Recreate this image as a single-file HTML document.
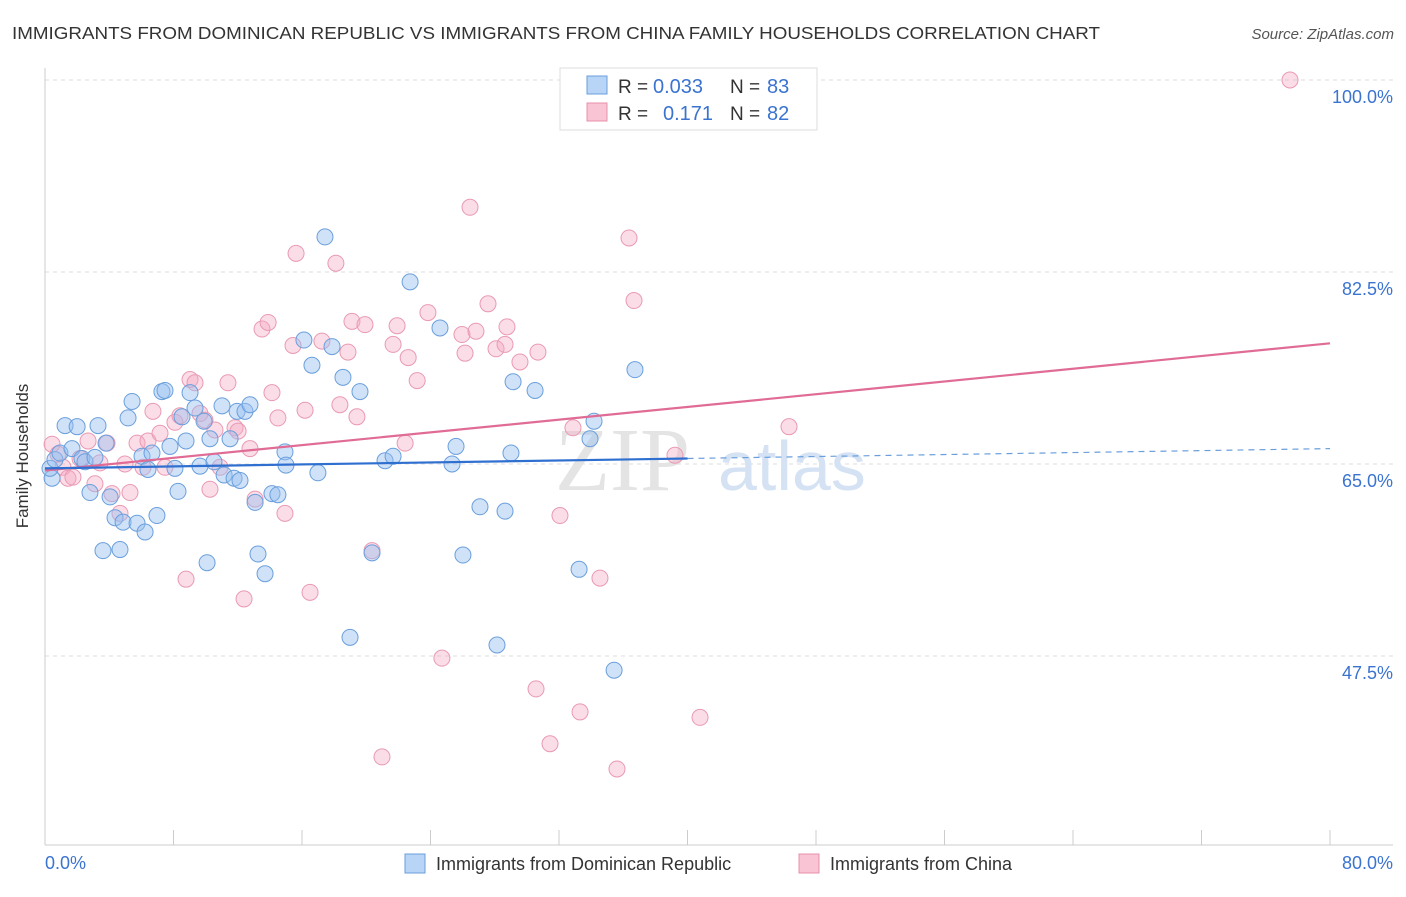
<!DOCTYPE html>
<html><head><meta charset="utf-8"><style>
body{margin:0;background:#fff;font-family:"Liberation Sans",sans-serif;}
</style></head><body>
<svg width="1406" height="892" xmlns="http://www.w3.org/2000/svg">
<text x="12" y="39" font-size="17.5" fill="#333" textLength="1088" lengthAdjust="spacingAndGlyphs">IMMIGRANTS FROM DOMINICAN REPUBLIC VS IMMIGRANTS FROM CHINA FAMILY HOUSEHOLDS CORRELATION CHART</text>
<text x="1394" y="39" font-size="15" fill="#555" font-style="italic" text-anchor="end">Source: ZipAtlas.com</text>
<g id="grid"></g>
<text x="555" y="490" font-size="90" fill="#e4e4e4" font-family="Liberation Serif">ZIP</text>
<text x="718" y="490" font-size="70" fill="#d4e2f4">atlas</text>
<g id="pts"></g>
<g id="lines"></g>
<text x="28" y="456" font-size="17" fill="#333" text-anchor="middle" transform="rotate(-90 28 456)">Family Households</text>
<text x="45" y="869" font-size="18" fill="#3a73d0">0.0%</text>
<text x="1393" y="869" font-size="18" fill="#3a73d0" text-anchor="end">80.0%</text>
<g>
<rect x="560" y="68" width="257" height="62" fill="#fff" stroke="#ddd"/>
<rect x="587" y="76" width="20" height="18" fill="#b8d4f6" stroke="#6a9fdc"/>
<rect x="587" y="103" width="20" height="18" fill="#f9c4d4" stroke="#e890ab"/>
<text x="618" y="93" font-size="19" fill="#333">R =</text>
<text x="653" y="93" font-size="20" fill="#3a73d0">0.033</text>
<text x="730" y="93" font-size="19" fill="#333">N =</text>
<text x="767" y="93" font-size="20" fill="#3a73d0">83</text>
<text x="618" y="120" font-size="19" fill="#333">R =</text>
<text x="663" y="120" font-size="20" fill="#3a73d0">0.171</text>
<text x="730" y="120" font-size="19" fill="#333">N =</text>
<text x="767" y="120" font-size="20" fill="#3a73d0">82</text>
</g>
<g>
<rect x="405" y="854" width="20" height="19" fill="#b8d4f6" stroke="#6a9fdc"/>
<text x="436" y="870" font-size="18" fill="#333">Immigrants from Dominican Republic</text>
<rect x="799" y="854" width="20" height="19" fill="#f9c4d4" stroke="#e890ab"/>
<text x="830" y="870" font-size="18" fill="#333">Immigrants from China</text>
</g>
</svg>
<script>
const yTicks=[100,82.5,65,47.5];
const yTickLabels=["100.0%","82.5%","65.0%","47.5%"];
const xTicks=[0,8,16,24,32,40,48,56,64,72,80];
const blueX=[0.44,0.31,0.62,0.93,1.25,1.68,2.0,2.3,2.49,2.8,3.11,3.3,3.61,3.8,4.05,4.36,4.67,4.86,5.17,5.42,5.73,6.04,6.23,6.41,6.66,6.97,7.28,7.47,7.78,8.09,8.28,8.53,8.78,9.03,9.34,9.65,9.9,10.09,10.27,10.52,11.02,11.15,11.52,11.77,11.96,12.14,12.45,12.76,13.08,13.26,13.7,14.13,14.5,14.94,15.0,16.12,16.62,16.99,17.43,17.87,18.55,18.99,19.61,20.36,21.17,21.67,22.73,24.59,25.34,25.59,26.02,27.08,28.14,28.64,29.01,29.14,30.51,33.25,33.93,34.18,35.43,36.73];
const blueY=[63.7,64.6,65.4,66.0,68.5,66.4,68.4,65.5,65.2,62.4,65.6,68.5,57.1,66.9,62.0,60.1,57.2,59.7,69.2,70.7,59.6,65.7,58.8,64.5,66.0,60.3,71.6,71.7,66.6,64.6,62.5,69.3,67.1,71.5,70.1,64.8,68.9,56.0,67.3,65.2,70.3,64.0,67.3,63.7,69.8,63.5,69.8,70.4,61.5,56.8,55.0,62.3,62.2,66.1,64.9,76.3,74.0,64.2,85.7,75.7,72.9,49.2,71.6,56.9,65.3,65.7,81.6,77.4,65.0,66.6,56.7,61.1,48.5,60.7,66.0,72.5,71.7,55.4,67.3,68.9,46.2,73.6];
const pinkX=[0.44,0.81,1.12,1.43,1.74,2.18,2.68,3.11,3.42,3.86,4.17,4.67,4.98,5.29,5.73,6.1,6.41,6.72,7.16,7.47,8.09,8.4,8.78,9.03,9.34,9.65,9.96,10.27,10.58,10.9,11.39,11.83,12.02,12.39,12.76,13.08,13.51,13.89,14.13,14.5,14.94,15.44,15.63,16.19,16.5,17.24,18.11,18.36,18.86,19.11,19.42,19.92,20.36,20.98,21.67,21.92,22.42,22.61,23.17,23.84,24.71,25.96,26.15,26.46,26.83,27.58,28.08,28.64,28.76,29.57,30.57,30.69,31.44,32.06,32.87,33.31,34.55,35.61,36.36,36.67,39.22,40.78,46.32,77.51];
const pinkY=[66.8,65.9,64.7,63.7,63.8,65.5,67.1,63.2,65.1,66.9,62.3,60.5,65.0,62.4,66.9,64.7,67.1,69.8,67.8,64.7,68.8,69.4,54.5,72.7,72.4,69.6,69.0,62.7,68.1,64.7,72.4,68.3,68.0,52.7,66.4,61.8,77.3,77.9,71.5,69.2,60.5,75.8,84.2,69.9,53.3,76.2,83.3,70.4,75.2,78.0,69.3,77.7,57.1,38.3,75.9,77.6,66.9,74.7,72.6,78.8,47.3,76.8,75.1,88.4,77.1,79.6,75.5,75.9,77.5,74.3,44.5,75.2,39.5,60.3,68.3,42.4,54.6,37.2,85.6,79.9,65.8,41.9,68.4,100.0];
const blueFit=[[0,64.6],[40,65.5]];
const blueFitExt=[[40,65.5],[80,66.4]];
const pinkFit=[[0,64.4],[80,76.0]];
const NS="http://www.w3.org/2000/svg";
function X(v){return 45+v/80*1285;}
function Y(v){return 80+(100-v)*10.971;}
function mk(t,a,p){const e=document.createElementNS(NS,t);for(const k in a)e.setAttribute(k,a[k]);p.appendChild(e);return e;}
const grid=document.getElementById('grid');
yTicks.forEach((t,i)=>{
 const l=mk('line',{x1:45,x2:1393,y1:Y(t),y2:Y(t),stroke:'#ddd','stroke-dasharray':'4,4'},grid);
 
 
 const tx=mk('text',{x:1393,y:Y(t)+23,'font-size':18,fill:'#3a73d0','text-anchor':'end'},grid);
 tx.textContent=yTickLabels[i];
 
 
});
const ax=mk('line',{x1:45,x2:45,y1:68,y2:845,stroke:'#ccc'},grid);


const bx=mk('line',{x1:45,x2:1393,y1:845,y2:845,stroke:'#ccc'},grid);


xTicks.forEach(t=>{
 const l=mk('line',{x1:X(t),x2:X(t),y1:830,y2:845,stroke:'#ccc'},grid);
 
 
});
const pts=document.getElementById('pts');
pinkX.forEach((v,i)=>{
 const c=mk('circle',{cx:X(v),cy:Y(pinkY[i]),r:8,fill:'rgba(245,170,195,0.4)',stroke:'#e99ab3','stroke-width':1},pts);
 
 
});
blueX.forEach((v,i)=>{
 const c=mk('circle',{cx:X(v),cy:Y(blueY[i]),r:8,fill:'rgba(150,190,240,0.45)',stroke:'#6a9fdc','stroke-width':1},pts);
 
 
});
const ln=document.getElementById('lines');
const p1=mk('line',{x1:X(pinkFit[0][0]),y1:Y(pinkFit[0][1]),x2:X(pinkFit[1][0]),y2:Y(pinkFit[1][1]),stroke:'#e06c96','stroke-width':2.2},ln);


const b1=mk('line',{x1:X(blueFit[0][0]),y1:Y(blueFit[0][1]),x2:X(blueFit[1][0]),y2:Y(blueFit[1][1]),stroke:'#2f6fd0','stroke-width':2.2},ln);


const b2=mk('line',{x1:X(blueFitExt[0][0]),y1:Y(blueFitExt[0][1]),x2:X(blueFitExt[1][0]),y2:Y(blueFitExt[1][1]),stroke:'#6a9fdc','stroke-width':1.2,'stroke-dasharray':'6,5'},ln);


</script>
</body></html>
